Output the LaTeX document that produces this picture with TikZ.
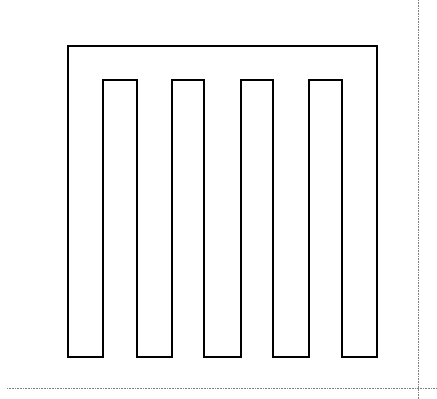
\documentclass[tikz,border=0pt]{standalone}
\begin{document}
\begin{tikzpicture}[x={(1pt,0)},y={(0,-1pt)},
  combline/.style={line width=1.3pt,line join=miter,black},
  guideline/.style={gray,densely dotted,line width=0.6pt}]
\useasboundingbox[fill=white] (0,0) rectangle (437,399);
\draw[guideline] (418,0) -- (418,399);
\draw[guideline] (7,388) -- (437,388);
\draw[combline] (68,357) -- (68,46) -- (377,46) -- (377,357) -- (342,357)
  -- (342,80) -- (309,80) -- (309,357) -- (273,357)
  -- (273,80) -- (241,80) -- (241,357) -- (204,357)
  -- (204,80) -- (172,80) -- (172,357) -- (137,357)
  -- (137,80) -- (103,80) -- (103,357) -- cycle;
\end{tikzpicture}
\end{document}
